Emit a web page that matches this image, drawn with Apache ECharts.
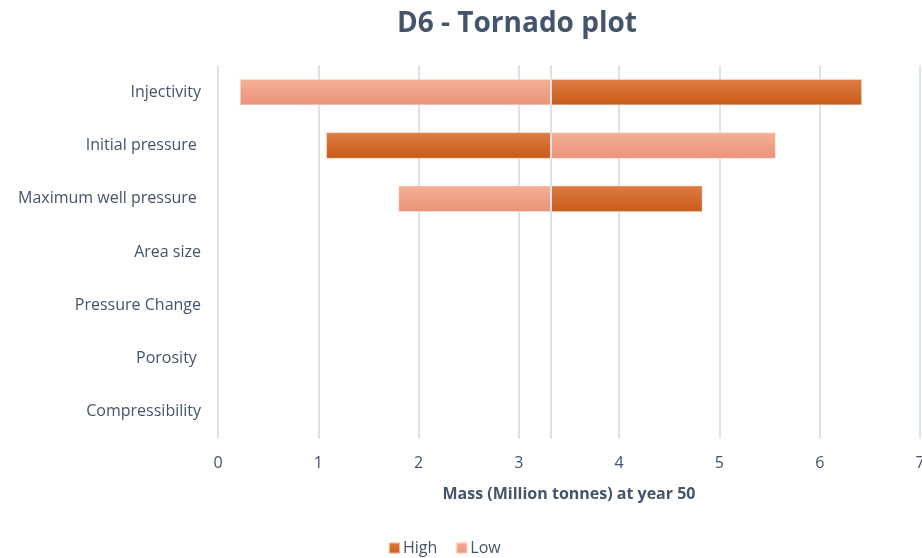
<!DOCTYPE html>
<html>
<head>
<meta charset="utf-8">
<script src="https://cdn.jsdelivr.net/npm/echarts@6/dist/echarts.min.js"></script>
<style>
  html, body { margin: 0; padding: 0; background: #ffffff; }
  #chart { width: 922px; height: 558px; }
</style>
</head>
<body>
<div id="chart"></div>
<script>
// Sensitivity parameters, top to bottom
const categories = ['Injectivity', 'Initial pressure ', 'Maximum well pressure ', 'Area size', 'Pressure Change', 'Porosity ', 'Compressibility'];
// Base case mass (Million tonnes) at year 50
const baseline = 3.32;
// Result with the parameter at its high / low setting
const highValues = [6.42, 1.08, 4.83, 3.32, 3.32, 3.32, 3.32];
const lowValues = [0.22, 5.56, 1.80, 3.32, 3.32, 3.32, 3.32];
const xTicks = [0, 1, 2, 3, 4, 5, 6, 7];

const textColor = '#44546A';
const fontFamily = '"Open Sans", "Noto Sans", sans-serif';

// Each bar spans from the baseline to its value: a transparent offset then the visible span
const offset = v => Math.min(v, baseline);
const span = v => Math.abs(v - baseline);

const highColor = new echarts.graphic.LinearGradient(0, 0, 0, 1, [
  { offset: 0, color: '#DE7C45' },
  { offset: 1, color: '#C95B19' }
]);
const lowColor = new echarts.graphic.LinearGradient(0, 0, 0, 1, [
  { offset: 0, color: '#F5B093' },
  { offset: 1, color: '#E8937A' }
]);

const chart = echarts.init(document.getElementById('chart'), null, { renderer: 'canvas' });

chart.setOption({
  animation: false,
  backgroundColor: '#ffffff',
  title: {
    text: 'D6 - Tornado plot',
    left: 512,
    top: 5,
    textAlign: 'center',
    textStyle: { fontFamily, fontSize: 28, fontWeight: 'bold', color: textColor }
  },
  legend: {
    data: ['High', 'Low'],
    top: 535,
    left: 383,
    itemWidth: 11,
    itemHeight: 11,
    itemGap: 18,
    icon: 'rect',
    textStyle: { fontFamily, fontSize: 16, color: textColor, padding: [0, 0, 0, -2] }
  },
  grid: { left: 218, right: 2, top: 65.5, bottom: 119.5, containLabel: false, outerBoundsMode: 'none' },
  xAxis: {
    type: 'value',
    min: xTicks[0],
    max: xTicks[xTicks.length - 1],
    interval: 1,
    name: 'Mass (Million tonnes) at year 50',
    nameLocation: 'middle',
    nameGap: 48,
    nameTextStyle: { fontFamily, fontSize: 16, fontWeight: 'bold', color: textColor },
    axisLine: { show: false },
    axisTick: { show: false },
    axisLabel: { fontFamily, fontSize: 16, color: textColor, margin: 17, showMaxLabel: true },
    splitLine: { show: true, lineStyle: { color: '#DDE1E8', width: 2 } }
  },
  yAxis: {
    type: 'category',
    data: categories,
    inverse: true,
    axisLine: { show: false },
    axisTick: { show: false },
    axisLabel: { fontFamily, fontSize: 16, color: textColor, margin: 17 },
    splitLine: { show: false }
  },
  series: [
    {
      name: 'highOffset',
      type: 'bar',
      stack: 'high',
      silent: true,
      itemStyle: { color: 'transparent' },
      data: highValues.map(offset),
      barWidth: 26,
      barGap: '-100%'
    },
    {
      name: 'High',
      type: 'bar',
      stack: 'high',
      itemStyle: { color: highColor, borderColor: 'rgba(255,235,225,0.6)', borderWidth: 0.6 },
      data: highValues.map(span),
      barWidth: 26,
      barGap: '-100%'
    },
    {
      name: 'lowOffset',
      type: 'bar',
      stack: 'low',
      silent: true,
      itemStyle: { color: 'transparent' },
      data: lowValues.map(offset),
      barWidth: 26,
      barGap: '-100%'
    },
    {
      name: 'Low',
      type: 'bar',
      stack: 'low',
      itemStyle: { color: lowColor, borderColor: 'rgba(255,235,225,0.6)', borderWidth: 0.6 },
      data: lowValues.map(span),
      barWidth: 26,
      barGap: '-100%',
      // Category axis crossing at the base case value
      markLine: {
        silent: true,
        symbol: 'none',
        label: { show: false },
        lineStyle: { color: '#DDE1E8', width: 2, type: 'solid' },
        data: [{ xAxis: baseline }],
        z: 10
      }
    }
  ]
});
</script>
</body>
</html>
